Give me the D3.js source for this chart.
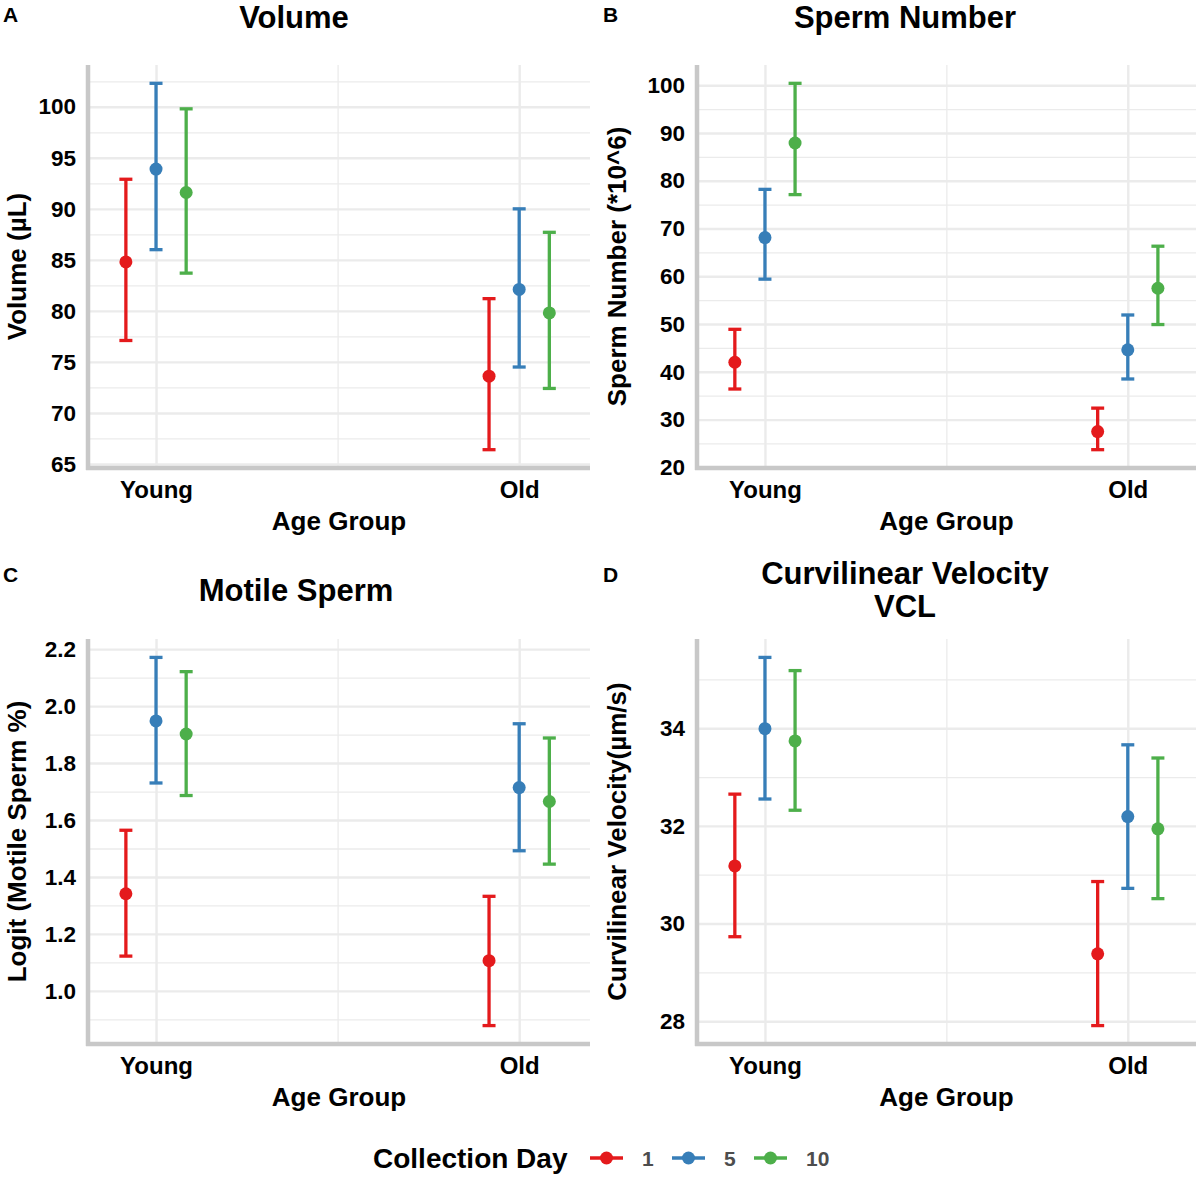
<!DOCTYPE html>
<html>
<head>
<meta charset="utf-8">
<script src="https://cdn.jsdelivr.net/npm/d3@7"></script>
<style>
  body { margin: 0; background: #fff; }
  svg { display: block; font-family: 'Liberation Sans', Arial, sans-serif; font-weight: bold; }
</style>
</head>
<body>
<svg></svg>
<script>
const width = 1200;
const height = 1177;

const groups = ['Young', 'Old'];
const days = ['1', '5', '10'];
const dayColors = ['#E41A1C', '#377EB8', '#4DAF4A'];

// values are [group][day]
const volumeMean = [[84.8, 93.9, 91.6], [73.6, 82.1, 79.8]];
const volumeLower = [[77.1, 86.0, 83.7], [66.4, 74.5, 72.4]];
const volumeUpper = [[92.9, 102.3, 99.8], [81.2, 90.0, 87.7]];
const volumeTicks = [65, 70, 75, 80, 85, 90, 95, 100];
const volumeMinor = [67.5, 72.5, 77.5, 82.5, 87.5, 92.5, 97.5, 102.5];

const spermMean = [[42.0, 68.1, 87.9], [27.5, 44.6, 57.5]];
const spermLower = [[36.4, 59.4, 77.1], [23.7, 38.5, 49.9]];
const spermUpper = [[48.9, 78.2, 100.4], [32.4, 51.9, 66.3]];
const spermTicks = [20, 30, 40, 50, 60, 70, 80, 90, 100];
const spermMinor = [25, 35, 45, 55, 65, 75, 85, 95];

const motileMean = [[1.341, 1.948, 1.902], [1.106, 1.714, 1.665]];
const motileLower = [[1.122, 1.730, 1.686], [0.878, 1.492, 1.445]];
const motileUpper = [[1.564, 2.171, 2.121], [1.332, 1.938, 1.888]];
const motileTicks = [1.0, 1.2, 1.4, 1.6, 1.8, 2.0, 2.2];
const motileMinor = [0.9, 1.1, 1.3, 1.5, 1.7, 1.9, 2.1];

const vclMean = [[31.18, 33.99, 33.74], [29.38, 32.19, 31.94]];
const vclLower = [[29.73, 32.55, 32.32], [27.91, 30.72, 30.51]];
const vclUpper = [[32.65, 35.45, 35.18], [30.86, 33.66, 33.39]];
const vclTicks = [28, 30, 32, 34];
const vclMinor = [29, 31, 33, 35];

const panels = [
  { letter: 'A', title: ['Volume'], yLabel: 'Volume (µL)', mean: volumeMean, lower: volumeLower, upper: volumeUpper, ticks: volumeTicks, minor: volumeMinor, fmt: d3.format('d') },
  { letter: 'B', title: ['Sperm Number'], yLabel: 'Sperm Number (*10^6)', mean: spermMean, lower: spermLower, upper: spermUpper, ticks: spermTicks, minor: spermMinor, fmt: d3.format('d') },
  { letter: 'C', title: ['Motile Sperm'], yLabel: 'Logit (Motile Sperm %)', mean: motileMean, lower: motileLower, upper: motileUpper, ticks: motileTicks, minor: motileMinor, fmt: d3.format('.1f') },
  { letter: 'D', title: ['Curvilinear Velocity', 'VCL'], yLabel: 'Curvilinear Velocity(µm/s)', mean: vclMean, lower: vclLower, upper: vclUpper, ticks: vclTicks, minor: vclMinor, fmt: d3.format('d') }
];

// layout of the 2x2 grid
const boxes = [
  { left: 88, right: 590, top: 65, bottom: 468, xMax: 2.195, ox: 0, oy: 0, titleX: 294, titleY: 28 },
  { left: 697, right: 1196, top: 65, bottom: 468, xMax: 2.188, ox: 600, oy: 0, titleX: 905, titleY: 28 },
  { left: 88, right: 590, top: 639, bottom: 1044, xMax: 2.195, ox: 0, oy: 560, titleX: 296, titleY: 601 },
  { left: 697, right: 1196, top: 639, bottom: 1044, xMax: 2.188, ox: 600, oy: 560, titleX: 905, titleY: 584 }
];

const dodge = 0.083;
const gridColor = '#ebebeb';
const axisColor = '#c8c8c8';

const svg = d3.select('svg')
    .attr('width', width)
    .attr('height', height);

function drawPanel(p, box) {
  const g = svg.append('g');
  const w = box.right - box.left;
  const h = box.bottom - box.top;

  const x = d3.scaleLinear()
      .domain([0.8127, box.xMax])
      .range([box.left, box.right]);

  const lo = d3.min(p.lower.flat());
  const hi = d3.max(p.upper.flat());
  const pad = (hi - lo) * 0.05;
  const y = d3.scaleLinear()
      .domain([lo - pad, hi + pad])
      .range([box.bottom, box.top]);

  // minor grid
  g.append('g')
      .attr('transform', `translate(${box.left},0)`)
      .call(d3.axisLeft(y).tickValues(p.minor).tickSize(-w).tickFormat(''))
      .call(a => a.select('.domain').remove())
      .call(a => a.selectAll('line').attr('stroke', gridColor).attr('stroke-width', 1.3));

  // major grid
  g.append('g')
      .attr('transform', `translate(${box.left},0)`)
      .call(d3.axisLeft(y).tickValues(p.ticks).tickSize(-w).tickFormat(''))
      .call(a => a.select('.domain').remove())
      .call(a => a.selectAll('line').attr('stroke', gridColor).attr('stroke-width', 2.4));

  // vertical grid
  g.append('g')
      .attr('transform', `translate(0,${box.bottom})`)
      .call(d3.axisBottom(x).tickValues([1.5]).tickSize(-h).tickFormat(''))
      .call(a => a.select('.domain').remove())
      .call(a => a.selectAll('line').attr('stroke', gridColor).attr('stroke-width', 1.3));
  g.append('g')
      .attr('transform', `translate(0,${box.bottom})`)
      .call(d3.axisBottom(x).tickValues([1, 2]).tickSize(-h).tickFormat(''))
      .call(a => a.select('.domain').remove())
      .call(a => a.selectAll('line').attr('stroke', gridColor).attr('stroke-width', 2.4));

  // axis lines
  g.append('line')
      .attr('x1', box.left).attr('x2', box.left)
      .attr('y1', box.top).attr('y2', box.bottom + 2)
      .attr('stroke', axisColor).attr('stroke-width', 4.5);
  g.append('line')
      .attr('x1', box.left - 2).attr('x2', box.right)
      .attr('y1', box.bottom).attr('y2', box.bottom)
      .attr('stroke', axisColor).attr('stroke-width', 4.5);

  // tick labels
  g.append('g')
      .attr('transform', `translate(${box.left},0)`)
      .call(d3.axisLeft(y).tickValues(p.ticks).tickSize(0).tickPadding(12).tickFormat(p.fmt))
      .call(a => a.select('.domain').remove())
      .call(a => a.selectAll('text')
          .attr('fill', '#000')
          .style('font-family', "'Liberation Sans', Arial, sans-serif")
          .style('font-weight', 'bold')
          .style('font-size', '22.5px'));

  g.append('g')
      .attr('transform', `translate(0,${box.bottom})`)
      .call(d3.axisBottom(x).tickValues([1, 2]).tickSize(0).tickPadding(13).tickFormat((d, i) => groups[i]))
      .call(a => a.select('.domain').remove())
      .call(a => a.selectAll('text')
          .attr('fill', '#000')
          .style('font-family', "'Liberation Sans', Arial, sans-serif")
          .style('font-weight', 'bold')
          .style('font-size', '24px'));

  // axis titles
  g.append('text')
      .attr('x', (box.left + box.right) / 2)
      .attr('y', box.bottom + 62)
      .attr('text-anchor', 'middle')
      .style('font-size', '26px')
      .text('Age Group');

  g.append('text')
      .attr('transform', `translate(${box.ox + 26},${(box.top + box.bottom) / 2}) rotate(-90)`)
      .attr('text-anchor', 'middle')
      .style('font-size', '26px')
      .text(p.yLabel);

  // title and letter
  g.append('text')
      .attr('x', box.titleX)
      .attr('y', box.titleY)
      .attr('text-anchor', 'middle')
      .style('font-size', '31px')
      .selectAll('tspan')
      .data(p.title)
      .join('tspan')
        .attr('x', box.titleX)
        .attr('dy', (d, i) => i === 0 ? 0 : 33)
        .text(d => d);

  g.append('text')
      .attr('x', box.ox + 3)
      .attr('y', box.oy + 22)
      .style('font-size', '21px')
      .text(p.letter);

  // error bars and points
  const rows = [];
  groups.forEach((grp, gi) => {
    days.forEach((day, di) => {
      rows.push({
        xv: gi + 1 + (di - 1) * dodge,
        mean: p.mean[gi][di],
        lower: p.lower[gi][di],
        upper: p.upper[gi][di],
        color: dayColors[di]
      });
    });
  });

  const bars = g.append('g')
    .selectAll('g')
    .data(rows)
    .join('g')
      .attr('stroke', d => d.color)
      .attr('stroke-width', 3.3);

  bars.append('line')
      .attr('x1', d => x(d.xv)).attr('x2', d => x(d.xv))
      .attr('y1', d => y(d.lower)).attr('y2', d => y(d.upper));
  bars.append('line')
      .attr('x1', d => x(d.xv) - 6.5).attr('x2', d => x(d.xv) + 6.5)
      .attr('y1', d => y(d.upper)).attr('y2', d => y(d.upper));
  bars.append('line')
      .attr('x1', d => x(d.xv) - 6.5).attr('x2', d => x(d.xv) + 6.5)
      .attr('y1', d => y(d.lower)).attr('y2', d => y(d.lower));
  bars.append('circle')
      .attr('cx', d => x(d.xv))
      .attr('cy', d => y(d.mean))
      .attr('r', 6.5)
      .attr('stroke', 'none')
      .attr('fill', d => d.color);
}

panels.forEach((p, i) => drawPanel(p, boxes[i]));

// legend
const legend = svg.append('g');
legend.append('text')
    .attr('x', 373)
    .attr('y', 1168)
    .style('font-size', '28px')
    .text('Collection Day');

const legendKeyX = [590, 672, 754];
const legendItems = legend.selectAll('g.key')
  .data(days)
  .join('g')
    .attr('class', 'key')
    .attr('transform', (d, i) => `translate(${legendKeyX[i]},1158)`);

legendItems.append('line')
    .attr('x1', 0).attr('x2', 33)
    .attr('stroke', (d, i) => dayColors[i])
    .attr('stroke-width', 3.3);
legendItems.append('circle')
    .attr('cx', 16.5)
    .attr('r', 6.5)
    .attr('fill', (d, i) => dayColors[i]);
legendItems.append('text')
    .attr('x', 52)
    .attr('y', 8)
    .attr('fill', '#4d4d4d')
    .style('font-size', '21px')
    .text(d => d);
</script>
</body>
</html>
